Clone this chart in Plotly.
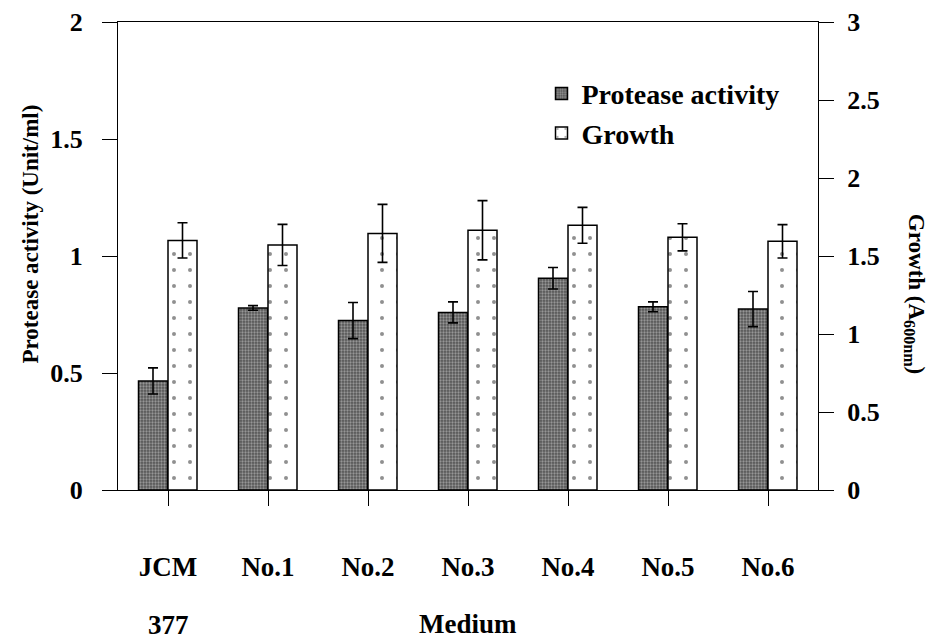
import plotly.graph_objects as go

categories = ["JCM 377", "No.1", "No.2", "No.3", "No.4", "No.5", "No.6"]
tick_labels = ["JCM", "No.1", "No.2", "No.3", "No.4", "No.5", "No.6"]
tick_second_line = "377"
protease = [0.466, 0.778, 0.724, 0.759, 0.905, 0.783, 0.773]
protease_err = [0.056, 0.010, 0.077, 0.045, 0.046, 0.021, 0.075]
growth = [1.60, 1.571, 1.645, 1.665, 1.697, 1.620, 1.594]
growth_err = [0.113, 0.132, 0.186, 0.190, 0.115, 0.087, 0.107]
left_ticks = [0, 0.5, 1, 1.5, 2]
right_ticks = [0, 0.5, 1, 1.5, 2, 2.5, 3]

FONT = "Liberation Serif"
xpos = list(range(len(categories)))


def bfont(size):
    return dict(family=FONT, size=size, color="black", weight="bold")


def bold(labels):
    return ["<b>%s</b>" % v for v in labels]


fig = go.Figure()
fig.add_trace(go.Bar(
    x=xpos, y=protease, name="<b>Protease activity</b>",
    width=0.29, offset=-0.295,
    marker=dict(color="#555555", line=dict(color="black", width=1.5),
                pattern=dict(shape=".", fillmode="overlay", fgcolor="#d8d8d8", bgcolor="#555555",
                             size=3, solidity=0.45)),
    error_y=dict(type="data", array=protease_err, visible=True, color="black", thickness=1.6, width=5),
    yaxis="y",
))
fig.add_trace(go.Bar(
    x=xpos, y=growth, name="<b>Growth</b>",
    width=0.29, offset=0.0,
    marker=dict(color="white", line=dict(color="black", width=1.5),
                pattern=dict(shape=".", fillmode="overlay", fgcolor="#222222", bgcolor="white",
                             size=16, solidity=0.05)),
    error_y=dict(type="data", array=growth_err, visible=True, color="black", thickness=1.6, width=5),
    yaxis="y2",
))

fig.update_layout(
    width=933, height=640,
    margin=dict(l=118, r=115, t=22, b=150),
    plot_bgcolor="white", paper_bgcolor="white",
    font=dict(family=FONT, color="black"),
    showlegend=True,
    legend=dict(x=0.605, y=0.9, xanchor="left", yanchor="top",
                font=bfont(28),
                bgcolor="rgba(0,0,0,0)", tracegroupgap=0),
    xaxis=dict(
        range=[-0.5, 6.5], tickvals=xpos, ticktext=bold(tick_labels),
        tickson="boundaries", ticks="outside", ticklen=15, tickcolor="black", tickwidth=1,
        showline=True, linecolor="black", linewidth=1, mirror=True,
        tickfont=bfont(27), ticklabelstandoff=38,
        showgrid=False, zeroline=False, automargin=False,
    ),
    yaxis=dict(
        range=[0, 2], tickvals=left_ticks, ticktext=bold(left_ticks),
        ticks="outside", ticklen=15, tickcolor="black",
        showline=True, linecolor="black", linewidth=1,
        tickfont=bfont(26), ticklabelstandoff=14,
        showgrid=False, zeroline=False, automargin=False,
    ),
    yaxis2=dict(
        range=[0, 3], overlaying="y", side="right", tickvals=right_ticks, ticktext=bold(right_ticks),
        ticks="outside", ticklen=15, tickcolor="black",
        showline=True, linecolor="black", linewidth=1,
        tickfont=bfont(26), ticklabelstandoff=8,
        showgrid=False, zeroline=False, automargin=False,
    ),
    annotations=[
        dict(text="<b>Protease activity (Unit/ml)</b>", xref="paper", yref="paper",
             x=-0.125, y=0.547, xanchor="center", yanchor="middle", textangle=-90,
             showarrow=False, font=bfont(23)),
        dict(text="<b>Growth (A<sub>600nm</sub>)</b>", xref="paper", yref="paper",
             x=1.138, y=0.42, xanchor="center", yanchor="middle", textangle=90,
             showarrow=False, font=bfont(23)),
        dict(text="<b>Medium</b>", xref="paper", yref="paper",
             x=0.5, y=-0.286, yanchor="middle", showarrow=False, font=bfont(27)),
        dict(text="<b>%s</b>" % tick_second_line, xref="x", yref="paper",
             x=xpos[0], y=-0.288, yanchor="middle", showarrow=False, font=bfont(27)),
    ],
)

fig.write_html("out.html")
